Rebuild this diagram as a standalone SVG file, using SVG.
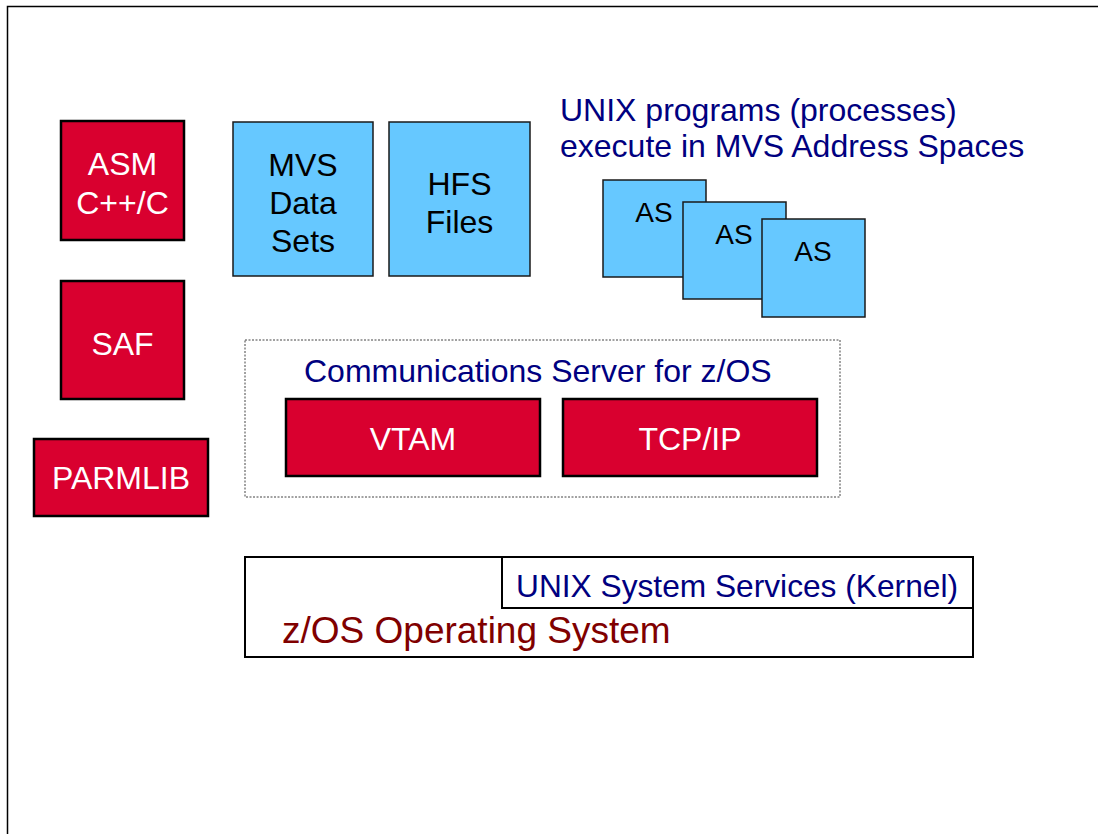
<svg xmlns="http://www.w3.org/2000/svg" width="1098" height="834" viewBox="0 0 1098 834">
<style>
.red{fill:#D9002F;stroke:#000;stroke-width:2.5}
.blue{fill:#66C8FF;stroke:#1a1a1a;stroke-width:1.5}
.wt{font-family:"Liberation Sans",Arial,sans-serif;font-size:32px;fill:#fff;text-anchor:middle}
.bt{font-family:"Liberation Sans",Arial,sans-serif;font-size:32px;fill:#000;text-anchor:middle}
.nv{font-family:"Liberation Sans",Arial,sans-serif;font-size:32px;fill:#000080}
</style>
<rect width="1098" height="834" fill="#fff"/>
<path d="M7.5,834 V6.5 H1098" fill="none" stroke="#000" stroke-width="1.5"/>
<g id="asm"><rect class="red" x="61" y="121" width="123" height="119"/><text class="wt" x="122.5" y="175">ASM</text><text class="wt" x="122.5" y="214">C++/C</text></g>
<g id="saf"><rect class="red" x="61" y="281" width="123" height="118"/><text class="wt" x="122.5" y="355">SAF</text></g>
<g id="parmlib"><rect class="red" x="34" y="439" width="174" height="77"/><text class="wt" x="121" y="489">PARMLIB</text></g>
<g id="mvs"><rect class="blue" x="233" y="122" width="140" height="154"/><text class="bt" x="303" y="176">MVS</text><text class="bt" x="303" y="214">Data</text><text class="bt" x="303" y="252">Sets</text></g>
<g id="hfs"><rect class="blue" x="389" y="122" width="141" height="154"/><text class="bt" x="459.5" y="195">HFS</text><text class="bt" x="459.5" y="233">Files</text></g>
<g id="unix-label"><text class="nv" x="560" y="121">UNIX programs (processes)</text><text class="nv" x="560" y="157">execute in MVS Address Spaces</text></g>
<g id="as1"><rect class="blue" x="603" y="180" width="103" height="97"/><text class="bt" x="654" y="222" style="font-size:28px">AS</text></g>
<g id="as2"><rect class="blue" x="683" y="202" width="103" height="97"/><text class="bt" x="734" y="244" style="font-size:28px">AS</text></g>
<g id="as3"><rect class="blue" x="762" y="219" width="103" height="98"/><text class="bt" x="813" y="261" style="font-size:28px">AS</text></g>
<g id="commserver"><rect x="245" y="340" width="595" height="157" fill="none" stroke="#444" stroke-width="1" stroke-dasharray="2,1.5"/><text class="nv" x="304" y="382">Communications Server for z/OS</text></g>
<g id="vtam"><rect class="red" x="286" y="399" width="254" height="77"/><text class="wt" x="413" y="450">VTAM</text></g>
<g id="tcpip"><rect class="red" x="563" y="399" width="254" height="77"/><text class="wt" x="690" y="450">TCP/IP</text></g>
<g id="zos"><rect x="245" y="557" width="728" height="100" fill="#fff" stroke="#000" stroke-width="2"/><text x="282" y="643" style="font-family:'Liberation Sans',Arial,sans-serif;font-size:37px;fill:#800000">z/OS Operating System</text></g>
<g id="uss"><rect x="502" y="557" width="471" height="51" fill="#fff" stroke="#000" stroke-width="2"/><text class="nv" x="516" y="597" style="font-size:31.7px">UNIX System Services (Kernel)</text></g>
<g id="connectors"></g>
</svg>
